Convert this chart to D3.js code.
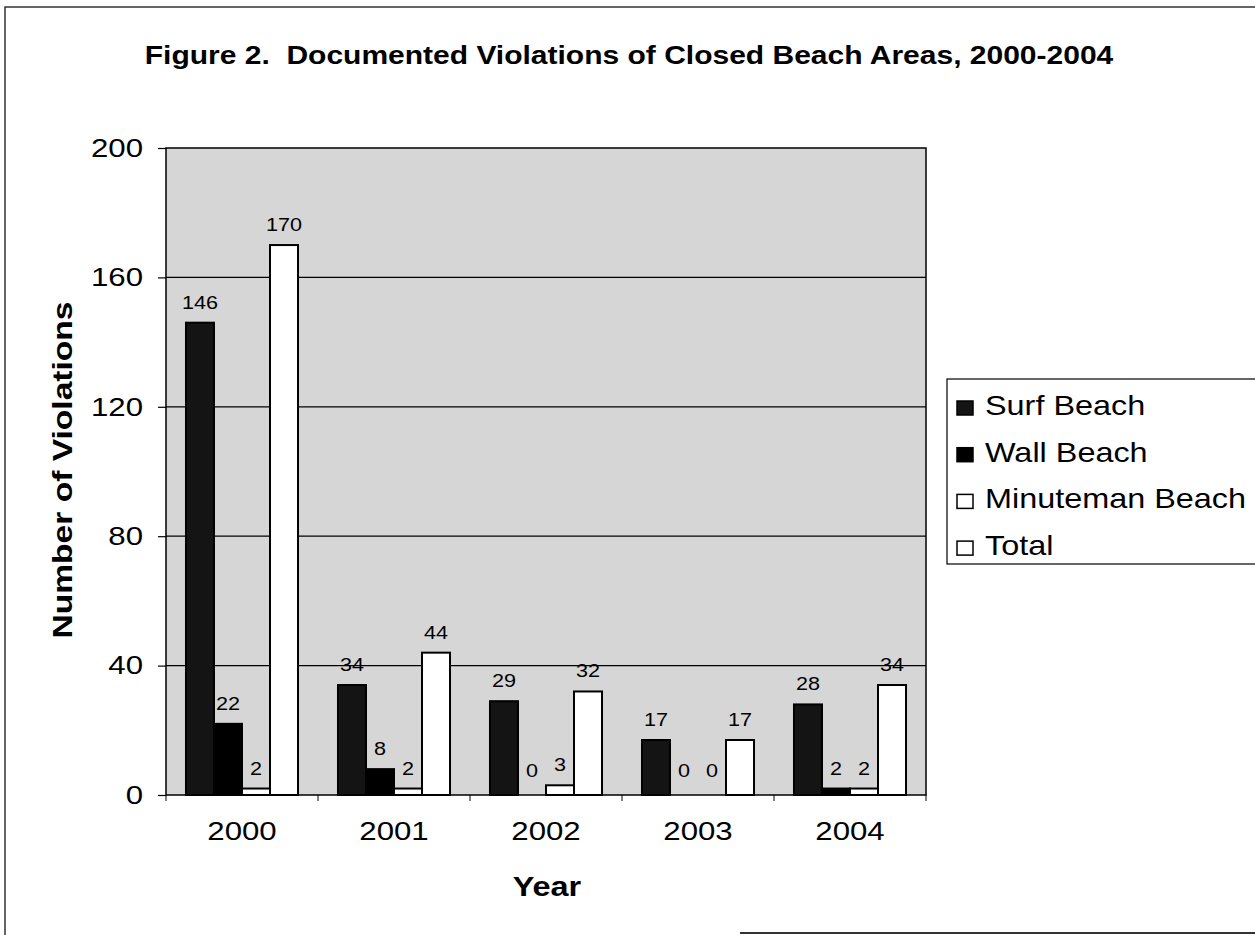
<!DOCTYPE html>
<html>
<head>
<meta charset="utf-8">
<script src="https://cdn.jsdelivr.net/npm/d3@7"></script>
<style>
  body { margin: 0; background: #fff; }
  svg { display: block; font-family: Arial, "Liberation Sans", sans-serif; }
</style>
</head>
<body>
<svg width="1255" height="935"></svg>
<script>
"use strict";

var years = ["2000", "2001", "2002", "2003", "2004"];
var seriesNames = ["Surf Beach", "Wall Beach", "Minuteman Beach", "Total"];
var surf = [146, 34, 29, 17, 28];
var wall = [22, 8, 0, 0, 2];
var minuteman = [2, 2, 3, 0, 2];
var total = [170, 44, 32, 17, 34];
var yTicks = [0, 40, 80, 120, 160, 200];

var seriesValues = [surf, wall, minuteman, total];
var fills = ["#141414", "#000000", "#ffffff", "#ffffff"];

var svg = d3.select("svg");
var plotLeft = 166, plotRight = 926, plotTop = 148, plotBottom = 795;
var sx = 1.2; // the scanned figure is wider than the font

function place(sel, px, py, extra) {
  return sel.attr("transform", "translate(" + px + "," + py + ")" + (extra || "") + " scale(" + sx + ",1)");
}

// page frame
svg.append("path")
  .attr("d", "M5,935V7H1255")
  .attr("fill", "none").attr("stroke", "#333").attr("stroke-width", 1.5);
svg.append("line")
  .attr("x1", 740).attr("x2", 1255).attr("y1", 933).attr("y2", 933)
  .attr("stroke", "#333").attr("stroke-width", 2);

place(svg.append("text"), 629, 64)
  .attr("text-anchor", "middle")
  .attr("font-size", 25).attr("font-weight", "bold")
  .attr("xml:space", "preserve")
  .text("Figure 2.  Documented Violations of Closed Beach Areas, 2000-2004");

var x = d3.scaleBand().domain(years).range([plotLeft, plotRight])
  .paddingInner(0.263).paddingOuter(0.1315);
var xs = d3.scaleBand().domain(d3.range(seriesNames.length)).range([0, x.bandwidth()]);
var y = d3.scaleLinear().domain([0, 200]).range([plotBottom, plotTop]);

// plot background
svg.append("rect")
  .attr("x", plotLeft).attr("y", plotTop)
  .attr("width", plotRight - plotLeft).attr("height", plotBottom - plotTop)
  .attr("fill", "#d6d6d6");

// gridlines
svg.append("g").selectAll("line")
  .data(yTicks.filter(function (d) { return d > 0 && d < 200; }))
  .enter().append("line")
  .attr("x1", plotLeft).attr("x2", plotRight)
  .attr("y1", function (d) { return y(d); })
  .attr("y2", function (d) { return y(d); })
  .attr("stroke", "#000").attr("stroke-width", 1.2);

// bars
var bars = [];
years.forEach(function (yr, i) {
  seriesValues.forEach(function (vals, s) {
    bars.push({ year: yr, s: s, v: vals[i] });
  });
});

svg.append("g").selectAll("rect")
  .data(bars)
  .enter().append("rect")
  .attr("x", function (d) { return x(d.year) + xs(d.s); })
  .attr("y", function (d) { return y(d.v); })
  .attr("width", xs.bandwidth())
  .attr("height", function (d) { return plotBottom - y(d.v); })
  .attr("fill", function (d) { return fills[d.s]; })
  .attr("stroke", "#000").attr("stroke-width", 2);

// data labels
svg.append("g").selectAll("text")
  .data(bars)
  .enter().append("text")
  .attr("transform", function (d) {
    var lx = x(d.year) + xs(d.s) + xs.bandwidth() / 2;
    var ly = Math.min(y(d.v) - 14, 777);
    return "translate(" + lx + "," + ly + ") scale(" + sx + ",1)";
  })
  .attr("text-anchor", "middle")
  .attr("font-size", 18)
  .text(function (d) { return d.v; });

// plot border
svg.append("rect")
  .attr("x", plotLeft).attr("y", plotTop)
  .attr("width", plotRight - plotLeft).attr("height", plotBottom - plotTop)
  .attr("fill", "none").attr("stroke", "#000").attr("stroke-width", 1.5);

// y axis
var yAxis = svg.append("g")
  .attr("transform", "translate(" + plotLeft + ",0)")
  .call(d3.axisLeft(y).tickValues(yTicks).tickSize(8).tickPadding(0));
yAxis.select(".domain").remove();
yAxis.selectAll("line").attr("stroke-width", 1.2);
yAxis.selectAll("text")
  .attr("font-size", 26).attr("font-family", null).attr("fill", "#000")
  .attr("x", -23 / sx)
  .attr("transform", "scale(" + sx + ",1)");

// x axis
var bounds = years.map(function (d) { return x(d) - x.step() * x.paddingInner() / 2; });
bounds.push(plotRight);
svg.append("g").selectAll("line")
  .data(bounds)
  .enter().append("line")
  .attr("x1", function (d) { return d; }).attr("x2", function (d) { return d; })
  .attr("y1", plotBottom).attr("y2", plotBottom + 6)
  .attr("stroke", "#000");
svg.append("g").selectAll("text")
  .data(years)
  .enter().append("text")
  .attr("transform", function (d) {
    return "translate(" + (x(d) + x.bandwidth() / 2) + ",840) scale(" + sx + ",1)";
  })
  .attr("text-anchor", "middle")
  .attr("font-size", 26)
  .text(function (d) { return d; });

place(svg.append("text"), 547, 896)
  .attr("text-anchor", "middle")
  .attr("font-size", 27).attr("font-weight", "bold")
  .text("Year");

place(svg.append("text"), 72, 470, " rotate(-90)")
  .attr("text-anchor", "middle")
  .attr("font-size", 28).attr("font-weight", "bold")
  .text("Number of Violations");

// legend
var legend = svg.append("g").attr("transform", "translate(947,379)");
legend.append("rect")
  .attr("width", 310).attr("height", 185)
  .attr("fill", "#fff").attr("stroke", "#000").attr("stroke-width", 1.2);
var item = legend.selectAll("g.item")
  .data(seriesNames)
  .enter().append("g")
  .attr("class", "item")
  .attr("transform", function (d, i) { return "translate(10," + (36 + i * 46.7) + ")"; });
item.append("rect")
  .attr("x", 0).attr("y", -14).attr("width", 16).attr("height", 14)
  .attr("fill", function (d, i) { return fills[i]; })
  .attr("stroke", "#000").attr("stroke-width", 1.5);
item.append("text")
  .attr("transform", "translate(28,0) scale(" + sx + ",1)")
  .attr("font-size", 27)
  .text(function (d) { return d; });
</script>
</body>
</html>
